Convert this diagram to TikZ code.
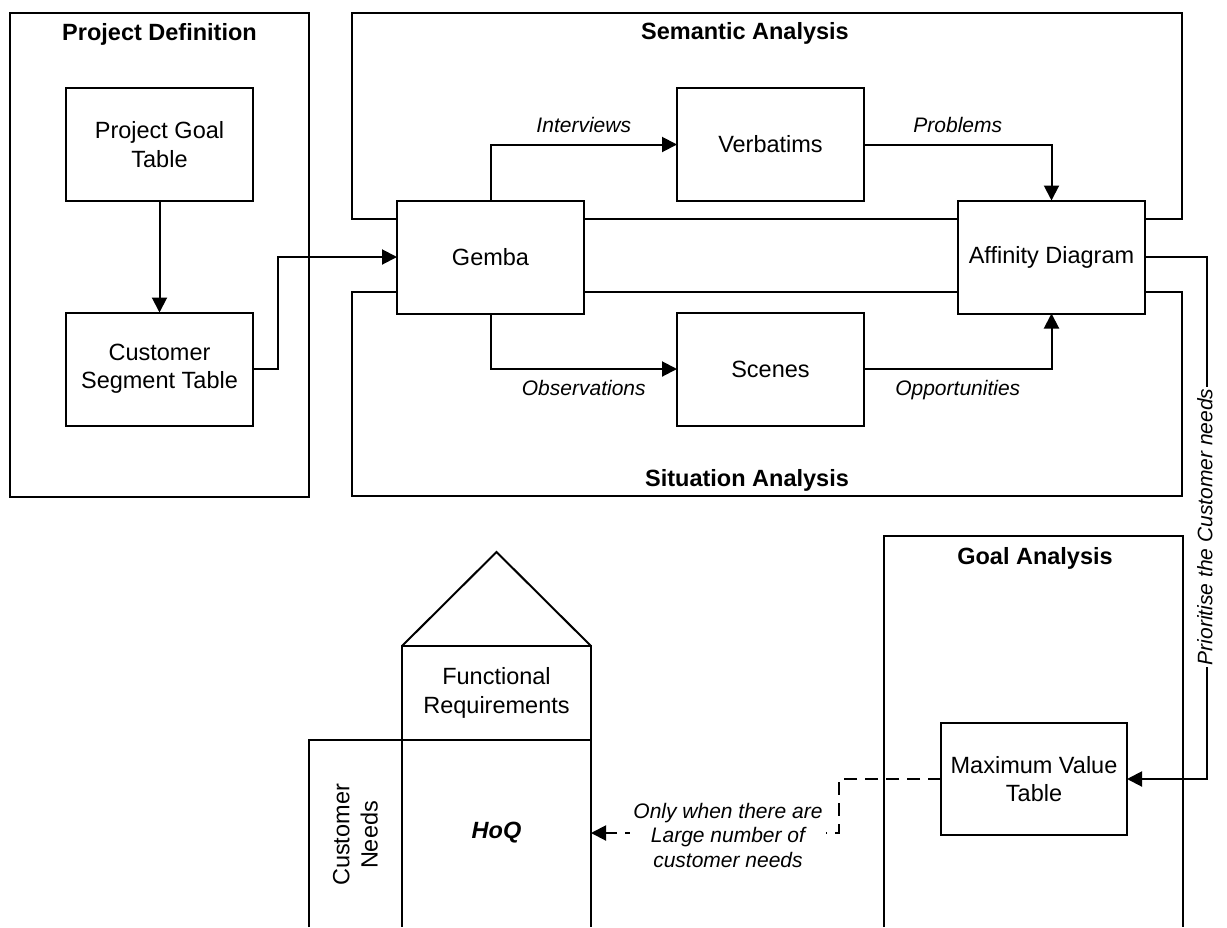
\documentclass[tikz,border=0pt]{standalone}
\usepackage{fontspec}
\setmainfont{Liberation Sans}
\usetikzlibrary{arrows.meta}

\begin{document}
\begin{tikzpicture}[x=1pt,y=-1pt,
  every node/.style={inner sep=0pt, outer sep=0pt},
  frame/.style={draw, line width=2pt},
  box/.style={draw, line width=2pt, fill=white, minimum width=187pt,
    minimum height=113pt, align=center,
    font=\fontsize{23.5}{28.3}\selectfont},
  plain/.style={align=center, font=\fontsize{23.5}{28.3}\selectfont},
  title/.style={anchor=base, font=\bfseries\fontsize{23.5}{28}\selectfont},
  flow/.style={line width=2pt, -{Triangle[length=15pt,width=15pt]}},
  lbl/.style={font=\itshape\fontsize{21}{24.5}\selectfont,
    text height=15pt, text depth=4.5pt},
  note/.style={align=center, fill=white, inner sep=3pt,
    font=\itshape\fontsize{21}{24.5}\selectfont},
]
\useasboundingbox (0,0) rectangle (1227,927);

% stage frames
\draw[frame] (10,13) rectangle (309,497);
\draw[frame] (352,13) rectangle (1182,219);
\draw[frame] (352,292) rectangle (1182,496);
\draw[frame] (884,927) -- (884,536) -- (1183,536) -- (1183,927);

\node[title] (tpd) at (159.5,40) {Project Definition};
\node[title] (tsa) at (745,39) {Semantic Analysis};
\node[title] (tsi) at (747,486) {Situation Analysis};
\node[title] (tga) at (1035,564) {Goal Analysis};

% process boxes
\node[box] (pgt) at (159.5,144.5) {Project Goal\\Table};
\node[box] (cst) at (159.5,369) {Customer\\Segment Table};
\node[box] (gemba) at (490.5,257) {Gemba};
\node[box] (verb) at (770.5,144.5) {Verbatims};
\node[box] (scenes) at (770.5,369) {Scenes};
\node[box] (aff) at (1051.5,257) {Affinity Diagram};
\node[box, minimum width=186pt, minimum height=112pt] (mvt) at (1034,779)
  {Maximum Value\\Table};

% house of quality
\node[box, minimum width=189pt, minimum height=94pt] (fr) at (496.5,693)
  {Functional\\Requirements};
\draw[frame] (fr.north west) -- (496.5,552) -- (fr.north east);
\draw[frame] (309,927) -- (309,740) -- (591,740) -- (591,927);
\draw[frame] (402,740) -- (402,927);
\node[plain, font=\bfseries\itshape\fontsize{23.5}{28.3}\selectfont] (hoq)
  at (496.5,833) {HoQ};
\node[plain, rotate=90] (cn) at (355.5,835) {Customer\\Needs};

% flows
\draw[flow] (pgt) -- (cst);
\draw[flow] (cst.east) -- ++(25,0) |- (gemba.west);
\draw[flow] (gemba.north) |- (verb.west)
  node[lbl, pos=0.75, above=7.5pt] {Interviews};
\draw[flow] (verb.east) -| (aff.north)
  node[lbl, pos=0.25, above=7.5pt] {Problems};
\draw[flow] (gemba.south) |- (scenes.west)
  node[lbl, pos=0.75, below=11pt] {Observations};
\draw[flow] (scenes.east) -| (aff.south)
  node[lbl, pos=0.25, below=11pt] {Opportunities};

\draw[flow] (aff.east) -- (1207,257) |- (mvt.east);
\node[lbl, rotate=90, fill=white, inner sep=2pt] (prio) at (1207,527)
  {Prioritise the Customer needs};

\coordinate (hoqin) at (591,833);
\draw[flow, dash pattern=on 13pt off 8pt] (mvt.west) -- (839,779) |- (hoqin);
\node[note] (only) at (728,835)
  {Only when there are\\Large number of\\customer needs};
\end{tikzpicture}
\end{document}
